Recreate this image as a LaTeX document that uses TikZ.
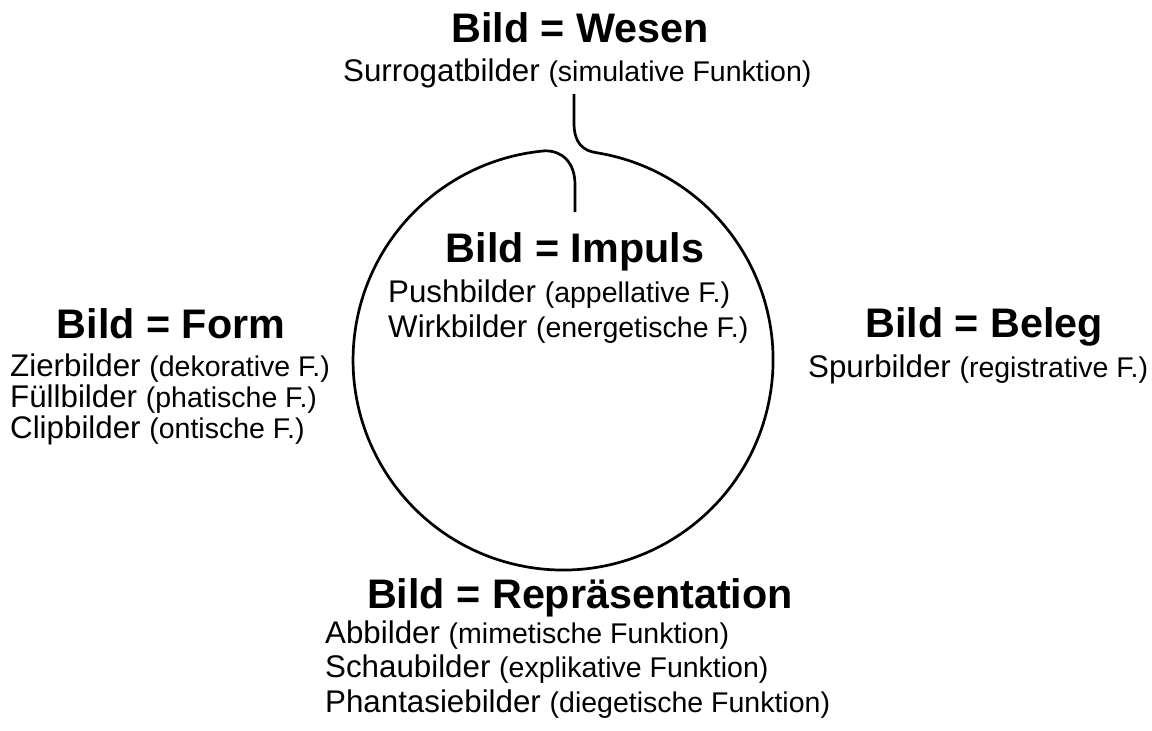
\documentclass[tikz,border=0pt]{standalone}
\usepackage{fontspec}
\setmainfont{Liberation Sans}
\newcommand{\pfont}{\fontsize{28.5}{30}\selectfont}
\begin{document}
\begin{tikzpicture}[x=1pt,y=-1pt,
  titletext/.style={font=\fontsize{41.3}{44}\selectfont\bfseries, inner sep=0pt, anchor=base},
  itemtext/.style={font=\fontsize{31.3}{34}\selectfont, inner sep=0pt, anchor=base west},
  ring/.style={draw=black, line width=2.7pt, line join=round}]
\useasboundingbox (0,0) rectangle (1152,731);
% titles
\node[titletext] (wesen) at (580,42) {Bild = Wesen};
\node[titletext] (impuls) at (575,262) {Bild = Impuls};
\node[titletext] (form) at (171,338) {Bild = Form};
\node[titletext] (beleg) at (984,337) {Bild = Beleg};
\node[titletext] (repr) at (580,608) {Bild = Repräsentation};
% items
\node[itemtext] (surr) at (343,81) {Surrogatbilder {\pfont(simulative Funktion)}};
\node[itemtext] (push) at (388,302) {Pushbilder {\pfont(appellative F.)}};
\node[itemtext] (wirk) at (388,337) {Wirkbilder {\pfont(energetische F.)}};
\node[itemtext] (zier) at (10,376) {Zierbilder {\pfont(dekorative F.)}};
\node[itemtext] (fuell) at (10,407) {Füllbilder {\pfont(phatische F.)}};
\node[itemtext] (clip) at (10,438) {Clipbilder {\pfont(ontische F.)}};
\node[itemtext] (spur) at (808,377) {Spurbilder {\pfont(registrative F.)}};
\node[itemtext] (abb) at (325,643) {Abbilder {\pfont(mimetische Funktion)}};
\node[itemtext] (schau) at (325,677) {Schaubilder {\pfont(explikative Funktion)}};
\node[itemtext] (phant) at (325,712) {Phantasiebilder {\pfont(diegetische Funktion)}};
% ring
\coordinate (topend) at (574,94);
\coordinate (inend) at (575,212);
\draw[ring] (topend) -- (574,123) .. controls (574,143) and (583,151) .. (597,152.8)
  arc[start angle=-80.7, end angle=265.1, radius=210]
  .. controls (562,150.8) and (575,162) .. (575,185) -- (inend);
\end{tikzpicture}
\end{document}
